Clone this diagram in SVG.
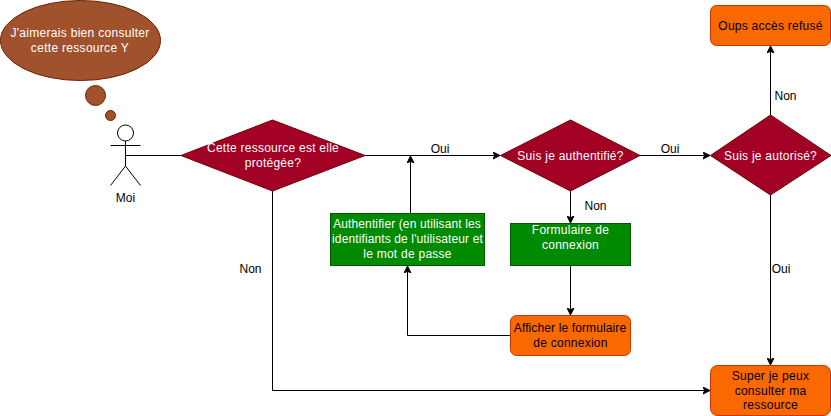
<svg xmlns="http://www.w3.org/2000/svg" width="831" height="416" viewBox="0 0 831 416">
<style>
text{font-family:"Liberation Sans",Arial,sans-serif;font-size:12px;text-anchor:middle}
.w{fill:#fff;letter-spacing:.25px}.k{fill:#000}.s{letter-spacing:.25px}
.t{letter-spacing:.12px}
.dia{fill:#a20025;stroke:#6f0000}
.grn{fill:#008a00;stroke:#005700}
.org{fill:#fa6800;stroke:#c73500}
.bub{fill:#a0522d;stroke:#6d1f00}
.c{fill:none;stroke:#000;stroke-width:1;marker-end:url(#a)}
.p{fill:none;stroke:#000;stroke-width:1}
</style>
<defs><marker id="a" markerUnits="userSpaceOnUse" markerWidth="8" markerHeight="8" refX="7" refY="4" orient="auto"><path d="M0 0.5L7 4L0 7.5L1.75 4Z" fill="#000" stroke="#000"/></marker></defs>
<rect width="831" height="416" fill="#fff"/>
<g id="connectors">
<path class="p" d="M125.500 155.500H181"/>
<path class="c" d="M365 155.500H500"/>
<path class="c" d="M410.500 213V156"/>
<path class="c" d="M640 155.500H710"/>
<path class="c" d="M570.500 190.500V223"/>
<path class="c" d="M570.500 265V315"/>
<path class="c" d="M510 335.500H407.500V266"/>
<path class="c" d="M770.500 115V46"/>
<path class="c" d="M770.500 195V365"/>
<path class="c" d="M272.500 190V390.500H710"/>
</g>
<g id="labels">
<text class="k" x="440" y="152.500">Oui</text>
<text class="k" x="670" y="152.500">Oui</text>
<text class="k" x="595.500" y="210">Non</text>
<text class="k" x="785.500" y="100">Non</text>
<text class="k" x="781" y="273">Oui</text>
<text class="k" x="250.500" y="273">Non</text>
</g>
<g id="bubble"><ellipse class="bub" cx="80.500" cy="40.500" rx="80" ry="40"/><text class="w" x="80" y="37" style="letter-spacing:.3px">J'aimerais bien consulter</text><text class="w" x="80" y="52" style="letter-spacing:.3px">cette ressource Y</text></g>
<g id="bubble-large"><circle class="bub" cx="95.500" cy="95.500" r="10"/></g>
<g id="bubble-small"><circle class="bub" cx="110.500" cy="115.500" r="5"/></g>
<g id="actor">
<circle cx="125.500" cy="133" r="8" fill="#fff" stroke="#000"/>
<path class="p" d="M125.500 141V166M110.500 145.500H140.500M125.500 166L110.500 185.500M125.500 166L140.500 185.500"/>
<text class="k" x="125.500" y="202">Moi</text>
</g>
<g id="protected"><polygon class="dia" points="272.500,120 365,155.500 272.500,191 181,155.500"/><text class="w" x="273" y="152">Cette ressource est elle</text><text class="w" x="273" y="167">protégée?</text></g>
<g id="authenticated"><polygon class="dia" points="570.500,120 640,155.500 570.500,191 500.500,155.500"/><text class="w" x="570.500" y="160">Suis je authentifié?</text></g>
<g id="authorized"><polygon class="dia" points="770.500,115 831,155.500 770.500,195 710.500,155.500"/><text class="w" x="770.500" y="160">Suis je autorisé?</text></g>
<g id="authenticate"><rect class="grn" x="330.500" y="213.500" width="154" height="52"/><text class="w t" x="407" y="228">Authentifier (en utilisant les</text><text class="w t" x="407.500" y="243">identifiants de l'utilisateur et</text><text class="w" x="407.500" y="258">le mot de passe</text></g>
<g id="form"><rect class="grn" x="510.500" y="223.500" width="120" height="42"/><text class="w" x="570.500" y="234">Formulaire de</text><text class="w" x="570.500" y="249">connexion</text></g>
<g id="show-form"><rect class="org" x="510.500" y="315.500" width="120" height="40" rx="6"/><text class="k t" x="570" y="332">Afficher le formulaire</text><text class="k s" x="570.500" y="347">de connexion</text></g>
<g id="denied"><rect class="org" x="710.500" y="5.500" width="120" height="40" rx="6"/><text class="k s" x="770.500" y="30">Oups accès refusé</text></g>
<g id="granted"><rect class="org" x="710.500" y="365.500" width="120" height="50" rx="7"/><text class="k s" x="770.500" y="380">Super je peux</text><text class="k s" x="770.500" y="395">consulter ma</text><text class="k s" x="770.500" y="409">ressource</text></g>
</svg>
